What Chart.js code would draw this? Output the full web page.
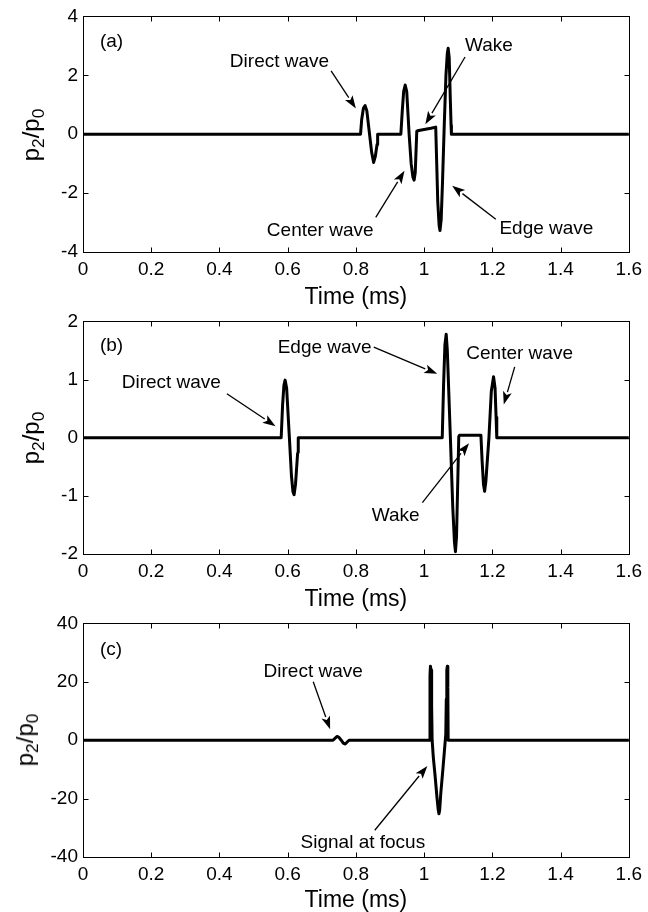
<!DOCTYPE html>
<html><head><meta charset="utf-8">
<script src="https://cdn.jsdelivr.net/npm/chart.js@4.4.1/dist/chart.umd.min.js"></script>
<style>
html,body{margin:0;padding:0;background:#fff;}
#wrap{position:relative;width:648px;height:912px;overflow:hidden;background:#fff;}
canvas{position:absolute;left:0;}
.ylab{position:absolute;font-family:"Liberation Sans",Arial,sans-serif;font-size:24px;color:#000;white-space:nowrap;transform:translate(-50%,-50%) rotate(-90deg);line-height:1;}
.ylab sub{font-size:0.72em;vertical-align:-0.28em;line-height:0;}
</style></head><body>
<div id="wrap">
<canvas id="ca" width="648" height="309" style="top:0px"></canvas>
<canvas id="cb" width="648" height="306" style="top:305px"></canvas>
<canvas id="cc" width="648" height="305" style="top:607px"></canvas>
<div class="ylab" style="left:31px;top:135px">p<sub>2</sub>/p<sub>0</sub></div>
<div class="ylab" style="left:31px;top:438px">p<sub>2</sub>/p<sub>0</sub></div>
<div class="ylab" style="left:25px;top:740px">p<sub>2</sub>/p<sub>0</sub></div>
</div>
<script>
// ---- data (time in ms, normalized pressure p2/p0) ----
const timeA = [0,0.8136,0.817,0.822,0.827,0.832,0.840,0.846,0.852,0.857,0.862,0.8635,0.864,
  0.9318,0.936,0.940,0.9445,0.949,0.956,0.962,0.967,0.9707,0.974,0.9785,0.981,
  1.000,1.020,1.034,1.036,1.040,1.044,1.0465,1.050,1.054,1.059,1.064,1.068,1.0705,1.0735,1.077,1.079,1.080,1.6];
const ampA  = [0,0,0.5,0.88,0.97,0.8,0,-0.6,-0.96,-0.75,-0.35,-0.28,0,
  0,0.8,1.45,1.67,1.45,0,-1.0,-1.45,-1.56,-1.3,0.1,0.12,
  0.16,0.2,0.24,-0.6,-2.3,-3.1,-3.27,-2.9,-1.6,0.3,2.0,2.75,2.92,2.6,1.1,0.3,0,0];

const timeB = [0,0.581,0.585,0.589,0.5925,0.597,0.605,0.611,0.6155,0.6188,0.623,0.629,0.6305,0.631,
  1.0531,1.057,1.061,1.0647,1.068,1.077,1.084,1.089,1.0918,1.095,1.1016,1.1035,
  1.1665,1.170,1.174,1.1773,1.181,1.190,1.197,1.2035,1.208,1.211,1.213,1.6];
const ampB  = [0,0,0.55,0.9,0.99,0.85,0,-0.65,-0.93,-0.98,-0.8,-0.28,-0.25,0,
  0,0.9,1.6,1.78,1.5,0,-1.2,-1.8,-1.96,-1.7,0.02,0.04,
  0.04,-0.4,-0.8,-0.92,-0.75,0,0.8,1.05,0.85,0.35,0,0];

const timeC = [0,0.733,0.740,0.745,0.750,0.757,0.763,0.768,0.773,0.780,
  1.0162,1.0172,1.0185,1.0205,1.022,1.0235,1.027,1.032,1.038,1.0415,1.0435,1.0455,1.049,1.055,1.060,1.0635,1.065,1.0665,1.068,1.0695,1.0705,1.6];
const ampC  = [0,0,0.8,1.3,1.0,0,-1.0,-1.3,-0.8,0,
  0,22,25.3,24,12,0,-6,-12,-20,-24,-25.2,-24,-18,-10,-3,2,14,24,25.3,18,0,0];

const xTicks  = [0,0.2,0.4,0.6,0.8,1,1.2,1.4,1.6];
const yTicksA = [-4,-2,0,2,4];
const yTicksB = [-2,-1,0,1,2];
const yTicksC = [-40,-20,0,20,40];
const panelLabels = ['(a)','(b)','(c)'];

// annotations: text anchor and arrow (tail -> tip) in data units
const notesA = [
  {t:'Direct wave', x:0.576, y:2.454, ax:0.7273, ay:2.151, bx:0.800, by:0.874},
  {t:'Wake', x:1.19, y:2.99, ax:1.12, ay:2.62, bx:1.0036, by:0.336},
  {t:'Center wave', x:0.6953, y:-3.294, ax:0.8582, ay:-2.824, bx:0.9425, by:-1.244},
  {t:'Edge wave', x:1.3585, y:-3.227, ax:1.2102, ay:-2.891, bx:1.0822, by:-1.748}
];
const notesB = [
  {t:'Edge wave', x:0.7084, y:1.549, ax:0.8524, ay:1.557, bx:1.0385, by:1.098},
  {t:'Center wave', x:1.28, y:1.438, ax:1.2655, ay:1.217, bx:1.2335, by:0.570},
  {t:'Direct wave', x:0.2589, y:0.945, ax:0.4218, ay:0.757, bx:0.5644, by:0.196},
  {t:'Wake', x:0.9164, y:-1.336, ax:0.9949, ay:-1.115, bx:1.1316, by:-0.094}
];
const notesC = [
  {t:'Direct wave', x:0.6749, y:23.56, ax:0.6749, ay:20, bx:0.7244, by:3.73},
  {t:'Signal at focus', x:0.8204, y:-35.25, ax:0.8553, ay:-30.85, bx:1.0095, by:-8.81}
];
const labelPos = [{x:0.0495,y:3.126},{x:0.0495,y:1.574},{x:0.0495,y:30.85}];

const FONT = '"Liberation Sans", Arial, Helvetica, sans-serif';
Chart.defaults.font.family = FONT;
Chart.defaults.color = '#000';

const framePlugin = {
  id: 'frame',
  afterDraw(chart) {
    const {ctx, chartArea: a, scales: {x, y}} = chart;
    const o = chart.options.plugins.frame;
    ctx.save();
    ctx.strokeStyle = '#000';
    ctx.lineWidth = 1;
    const L = Math.round(a.left) + 0.5, R = Math.round(a.right) + 0.5;
    const T = Math.round(a.top) + 0.5, B = Math.round(a.bottom) + 0.5;
    ctx.strokeRect(L, T, R - L, B - T);
    ctx.beginPath();
    xTicks.forEach(v => {
      const px = Math.round(x.getPixelForValue(v)) + 0.5;
      ctx.moveTo(px, B); ctx.lineTo(px, B - 5);
      ctx.moveTo(px, T); ctx.lineTo(px, T + 5);
    });
    o.yTicks.forEach(v => {
      const py = Math.round(y.getPixelForValue(v)) + 0.5;
      ctx.moveTo(L, py); ctx.lineTo(L + 5, py);
      ctx.moveTo(R, py); ctx.lineTo(R - 5, py);
    });
    ctx.stroke();
    // panel label
    ctx.fillStyle = '#000';
    ctx.font = '19px ' + FONT;
    ctx.textAlign = 'left';
    ctx.textBaseline = 'middle';
    ctx.fillText(o.label, x.getPixelForValue(o.labelPos.x), y.getPixelForValue(o.labelPos.y));
    // annotations
    ctx.textAlign = 'center';
    o.notes.forEach(n => {
      ctx.fillText(n.t, x.getPixelForValue(n.x), y.getPixelForValue(n.y));
      const x1 = x.getPixelForValue(n.ax), y1 = y.getPixelForValue(n.ay);
      const x2 = x.getPixelForValue(n.bx), y2 = y.getPixelForValue(n.by);
      const ang = Math.atan2(y2 - y1, x2 - x1);
      const hl = 13, hw = 4.5;
      const bxp = x2 - hl * Math.cos(ang), byp = y2 - hl * Math.sin(ang);
      ctx.lineWidth = 1.3;
      ctx.beginPath(); ctx.moveTo(x1, y1); ctx.lineTo(bxp, byp); ctx.stroke();
      ctx.beginPath();
      ctx.moveTo(x2, y2);
      ctx.lineTo(bxp + hw * Math.sin(ang), byp - hw * Math.cos(ang));
      ctx.lineTo(x2 - (hl - 3) * Math.cos(ang), y2 - (hl - 3) * Math.sin(ang));
      ctx.lineTo(bxp - hw * Math.sin(ang), byp + hw * Math.cos(ang));
      ctx.closePath(); ctx.fill();
    });
    ctx.restore();
  }
};

function makePanel(id, times, amps, yTicks, ymin, ymax, xH, notes, label, lpos) {
  const pts = times.map((t, i) => ({x: t, y: amps[i]}));
  new Chart(document.getElementById(id), {
    type: 'line',
    data: {datasets: [{data: pts, borderColor: '#000', borderWidth: 3, pointRadius: 0,
      tension: 0, fill: false, borderJoinStyle: 'round', borderCapStyle: 'round'}]},
    options: {
      responsive: false, animation: false, devicePixelRatio: 1,
      layout: {padding: {top: 14, right: 15, left: 0, bottom: 0}},
      plugins: {legend: {display: false}, tooltip: {enabled: false},
        frame: {yTicks: yTicks, notes: notes, label: label, labelPos: lpos}},
      scales: {
        x: {type: 'linear', min: 0, max: 1.6,
          afterBuildTicks: s => { s.ticks = xTicks.map(v => ({value: v})); },
          afterFit: s => { s.height = xH; },
          grid: {display: false, drawTicks: false},
          border: {display: false},
          ticks: {font: {size: 19}, padding: 6, color: '#000', maxRotation: 0, callback: v => String(v)},
          title: {display: true, text: 'Time (ms)', font: {size: 23, lineHeight: 1}, color: '#000', padding: {top: 0, bottom: 0}}
        },
        y: {type: 'linear', min: ymin, max: ymax,
          afterBuildTicks: s => { s.ticks = yTicks.map(v => ({value: v})); },
          afterFit: s => { s.width = 83; },
          grid: {display: false, drawTicks: false},
          border: {display: false},
          ticks: {font: {size: 19}, padding: 5, color: '#000', callback: v => String(v)}
        }
      }
    },
    plugins: [framePlugin]
  });
}

makePanel('ca', timeA, ampA, yTicksA, -4, 4, 57, notesA, panelLabels[0], labelPos[0]);
makePanel('cb', timeB, ampB, yTicksB, -2, 2, 57, notesB, panelLabels[1], labelPos[1]);
makePanel('cc', timeC, ampC, yTicksC, -40, 40, 55, notesC, panelLabels[2], labelPos[2]);
</script>
</body></html>
